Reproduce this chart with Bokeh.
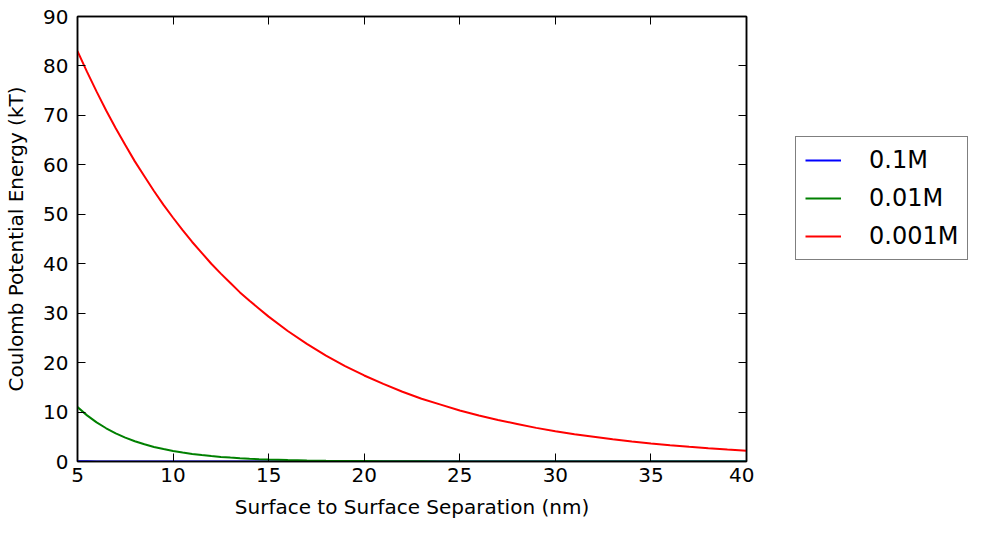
from bokeh.plotting import figure
from bokeh.models import Range1d, LinearAxis, FixedTicker, Legend, LegendItem
from bokeh.layouts import row
from bokeh.embed import file_html
from bokeh.resources import INLINE

# ---- data ----
separation_nm = [5, 5.5, 6, 6.5, 7, 7.5, 8, 8.5, 9, 9.5, 10, 10.5, 11, 11.5, 12, 12.5,
                 13, 13.5, 14, 14.5, 15, 16, 17, 18, 19, 20, 21, 22, 23, 24, 25, 26,
                 27, 28, 29, 30, 31, 32, 33, 34, 35, 36, 37, 38, 39, 40]
energy_0_1M = [0.06, 0.04, 0.02, 0.015, 0.01, 0.0, 0.0, 0.0, 0.0, 0.0, 0.0, 0.0, 0.0,
               0.0, 0.0, 0.0, 0.0, 0.0, 0.0, 0.0, 0.0, 0.0, 0.0, 0.0, 0.0, 0.0, 0.0,
               0.0, 0.0, 0.0, 0.0, 0.0, 0.0, 0.0, 0.0, 0.0, 0.0, 0.0, 0.0, 0.0, 0.0,
               0.0, 0.0, 0.0, 0.0, 0.0]
energy_0_01M = [11.0, 9.33, 7.92, 6.72, 5.70, 4.84, 4.10, 3.48, 2.95, 2.51, 2.12, 1.80,
                1.53, 1.30, 1.10, 0.93, 0.79, 0.67, 0.57, 0.48, 0.41, 0.30, 0.21, 0.15,
                0.11, 0.08, 0.06, 0.04, 0.03, 0.02, 0.015, 0.01, 0.01, 0.0, 0.0, 0.0,
                0.0, 0.0, 0.0, 0.0, 0.0, 0.0, 0.0, 0.0, 0.0, 0.0]
energy_0_001M = [83.0, 78.8, 74.8, 71.0, 67.4, 64.0, 60.7, 57.7, 54.7, 51.9, 49.3, 46.8,
                 44.4, 42.2, 40.0, 38.0, 36.1, 34.2, 32.5, 30.9, 29.3, 26.4, 23.8, 21.4,
                 19.3, 17.4, 15.7, 14.1, 12.7, 11.5, 10.3, 9.3, 8.4, 7.6, 6.8, 6.1, 5.5,
                 5.0, 4.5, 4.05, 3.65, 3.3, 2.96, 2.67, 2.41, 2.17]
series_labels = ["0.1M", "0.01M", "0.001M"]
series_colors = ["#0000ff", "#008000", "#ff0000"]
x_ticks = [5, 10, 15, 20, 25, 30, 35, 40]
y_ticks = [0, 10, 20, 30, 40, 50, 60, 70, 80, 90]

FONT = "DejaVu Sans"
TICK_SIZE = "20px"
LABEL_SIZE = "20px"
HEIGHT = 528
PLOT_W = 754
LEGEND_W = 230

p = figure(width=PLOT_W, height=HEIGHT, output_backend="svg", toolbar_location=None,
           x_range=Range1d(5, 40), y_range=Range1d(0, 90),
           min_border_left=77, min_border_right=8, min_border_top=16, min_border_bottom=67,
           x_axis_label="Surface to Surface Separation (nm)",
           y_axis_label="Coulomb Potential Energy (kT)")
p.xgrid.visible = False
p.ygrid.visible = False
p.outline_line_color = "black"
p.outline_line_width = 1.5
p.background_fill_color = "white"
p.border_fill_color = "white"

for ax, ticks in ((p.xaxis[0], x_ticks), (p.yaxis[0], y_ticks)):
    ax.ticker = FixedTicker(ticks=ticks)
    ax.minor_tick_line_color = None
    ax.major_tick_in = 8
    ax.major_tick_out = 0
    ax.major_tick_line_color = "black"
    ax.major_tick_line_width = 1
    ax.axis_line_color = "black"
    ax.axis_line_width = 1.5
    ax.major_label_text_font = FONT
    ax.major_label_text_font_size = TICK_SIZE
    ax.major_label_text_color = "black"
    ax.axis_label_text_font = FONT
    ax.axis_label_text_font_size = LABEL_SIZE
    ax.axis_label_text_font_style = "normal"
    ax.axis_label_text_color = "black"

p.xaxis[0].major_label_standoff = 6
p.xaxis[0].axis_label_standoff = 10
p.yaxis[0].major_label_standoff = 9
p.yaxis[0].axis_label_standoff = 12

# mirror axes (top / right) with inward ticks only
for ticks, side in ((x_ticks, "above"), (y_ticks, "right")):
    ax = LinearAxis(ticker=FixedTicker(ticks=ticks),
                    major_label_overrides={t: "" for t in ticks})
    ax.minor_tick_line_color = None
    ax.major_tick_in = 8
    ax.major_tick_out = 0
    ax.major_label_standoff = 0
    ax.axis_line_width = 1.5
    p.add_layout(ax, side)

for ys, c in zip([energy_0_1M, energy_0_01M, energy_0_001M], series_colors):
    p.line(separation_nm, ys, line_color=c, line_width=2)

# legend lives in a companion figure to the right of the plot
q = figure(width=LEGEND_W, height=HEIGHT, output_backend="svg", toolbar_location=None,
           x_range=Range1d(-20, -10), y_range=Range1d(0, 90),
           min_border_left=0, min_border_right=0, min_border_top=0, min_border_bottom=0)
q.axis.visible = False
q.xgrid.visible = False
q.ygrid.visible = False
q.outline_line_color = None
q.background_fill_color = "white"
q.border_fill_color = "white"

legend_renderers = []
for ys, c in zip([energy_0_1M, energy_0_01M, energy_0_001M], series_colors):
    legend_renderers.append(q.line(separation_nm, ys, line_color=c, line_width=2))

legend = Legend(items=[LegendItem(label=l, renderers=[r])
                       for l, r in zip(series_labels, legend_renderers)],
                location=(41, 201))
legend.label_text_font = FONT
legend.label_text_font_size = "24px"
legend.label_text_color = "black"
legend.glyph_width = 36
legend.glyph_height = 20
legend.label_height = 20
legend.label_standoff = 28
legend.spacing = 10
legend.padding = 9
legend.margin = 0
legend.border_line_color = "black"
legend.border_line_width = 1.5
legend.background_fill_alpha = 1
q.add_layout(legend, "center")

layout = row(p, q, spacing=0)
open("out.html", "w").write(file_html(layout, INLINE))
